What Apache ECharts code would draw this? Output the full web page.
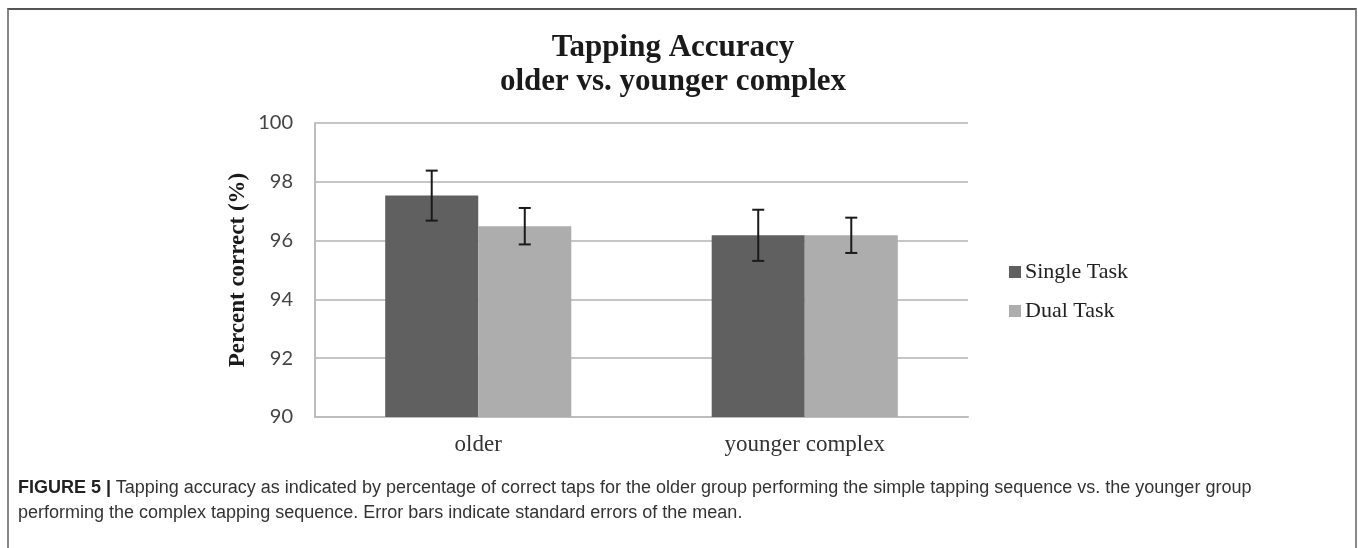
<!DOCTYPE html>
<html>
<head>
<meta charset="utf-8">
<script src="https://cdn.jsdelivr.net/npm/echarts@6/dist/echarts.min.js"></script>
<style>
  html, body { margin: 0; padding: 0; background: #fff; }
  #frame {
    position: absolute; left: 7px; top: 8px; width: 1346px; height: 600px;
    border-top: 2px solid #555; border-left: 2px solid #888; border-right: 2px solid #888;
  }
  #chart { position: absolute; left: 0; top: 0; width: 1358px; height: 548px; }
  #caption {
    position: absolute; left: 18px; top: 475px; width: 1262px;
    font-family: "Liberation Sans", Arial, sans-serif; font-size: 18px; line-height: 25px; color: #333;
  }
  #caption b { color: #222; }
</style>
</head>
<body>
<div id="frame"></div>
<div id="chart"></div>
<div id="caption"><b>FIGURE 5 |</b> Tapping accuracy as indicated by percentage of correct taps for the older group performing the simple tapping sequence vs. the younger group performing the complex tapping sequence. Error bars indicate standard errors of the mean.</div>
<script>
// values
var categories = ['older', 'younger complex'];
var seriesNames = ['Single Task', 'Dual Task'];
var singleTask = [97.53, 96.18];
var dualTask = [96.49, 96.18];
var singleErr = [0.85, 0.87];
var dualErr = [0.62, 0.6];
var yTicks = [90, 100, 2];

var colors = ['#606060', '#adadad'];
var catGap = 0.43;

var chart = echarts.init(document.getElementById('chart'));

// error bars drawn over the grouped bars
function errorSeries(values, errs, side) {
  var data = values.map(function (v, i) { return [i, v - errs[i], v + errs[i]]; });
  return {
    type: 'custom',
    z: 10,
    silent: true,
    data: data,
    renderItem: function (params, api) {
      var band = api.size([1, 0])[0];
      var barW = band * (1 - catGap) / 2;
      var lo = api.coord([api.value(0), api.value(1)]);
      var hi = api.coord([api.value(0), api.value(2)]);
      var x = lo[0] + side * barW / 2;
      var cap = 6;
      var style = { stroke: '#1a1a1a', lineWidth: 2 };
      return {
        type: 'group',
        children: [
          { type: 'line', shape: { x1: x, y1: hi[1], x2: x, y2: lo[1] }, style: style },
          { type: 'line', shape: { x1: x - cap, y1: hi[1], x2: x + cap, y2: hi[1] }, style: style },
          { type: 'line', shape: { x1: x - cap, y1: lo[1], x2: x + cap, y2: lo[1] }, style: style }
        ]
      };
    }
  };
}

chart.setOption({
  animation: false,
  color: colors,
  title: {
    text: 'Tapping Accuracy\nolder vs. younger complex',
    left: 668,
    top: 26,
    textAlign: 'center',
    textStyle: {
      fontFamily: 'Liberation Serif', fontWeight: 'bold', fontSize: 31,
      lineHeight: 34, color: '#1a1a1a'
    }
  },
  legend: {
    data: seriesNames,
    orient: 'vertical',
    left: 1004,
    top: 256,
    icon: 'rect',
    itemWidth: 12,
    itemHeight: 12,
    itemGap: 17,
    textStyle: { fontFamily: 'Liberation Serif', fontSize: 22, color: '#222', padding: [0, 0, 0, -1] }
  },
  grid: { left: 315, right: 390, top: 123, bottom: 131, containLabel: false },
  xAxis: {
    type: 'category',
    data: categories,
    axisTick: { show: false },
    axisLine: { lineStyle: { color: '#bdbdbd', width: 2 } },
    axisLabel: { fontFamily: 'Liberation Serif', fontSize: 23, color: '#333', margin: 16 }
  },
  yAxis: {
    type: 'value',
    min: yTicks[0],
    max: yTicks[1],
    interval: yTicks[2],
    name: 'Percent correct (%)',
    nameLocation: 'middle',
    nameGap: 65,
    nameTextStyle: { fontFamily: 'Liberation Serif', fontWeight: 'bold', fontSize: 23, color: '#1a1a1a' },
    axisLine: { show: true, lineStyle: { color: '#bdbdbd', width: 2 } },
    axisTick: { show: false },
    axisLabel: { fontFamily: 'Lato', fontSize: 20, color: '#444', margin: 22 },
    splitLine: { lineStyle: { color: '#c6c6c6', width: 2 } }
  },
  series: [
    { name: seriesNames[0], type: 'bar', data: singleTask, barGap: '0%', barCategoryGap: '43%' },
    { name: seriesNames[1], type: 'bar', data: dualTask, barGap: '0%', barCategoryGap: '43%' },
    errorSeries(singleTask, singleErr, -1),
    errorSeries(dualTask, dualErr, 1)
  ]
});
</script>
</body>
</html>
